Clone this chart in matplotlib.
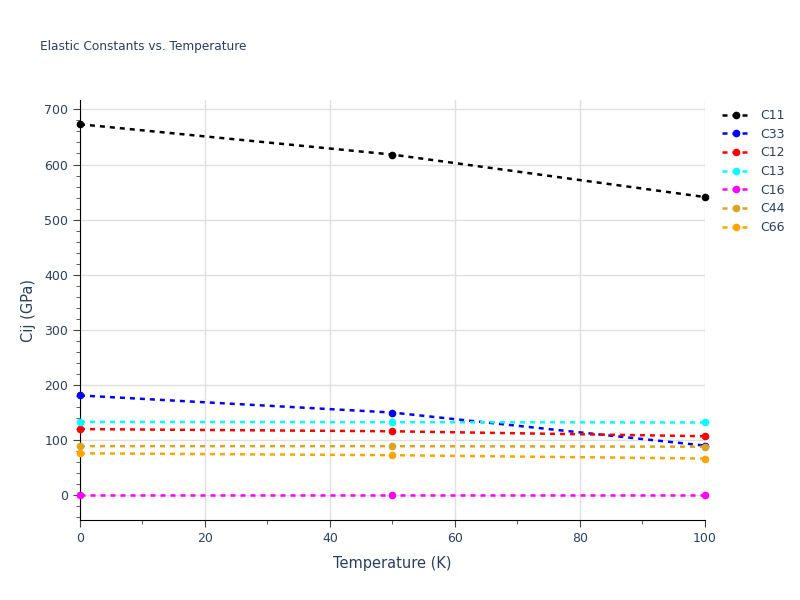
import matplotlib.pyplot as plt
import numpy as np
from matplotlib.ticker import MultipleLocator

temps = [0, 50, 100]
names = ['C11', 'C33', 'C12', 'C13', 'C16', 'C44', 'C66']
c11 = [673, 618, 541]
c33 = [181, 150, 90]
c12 = [120, 116, 107]
c13 = [133, 132.5, 132]
c16 = [0, 0, 0]
c44 = [89, 89, 88]
c66 = [76, 72.6, 66.5]
colors = ['black', 'blue', 'red', 'cyan', 'magenta', 'goldenrod', 'orange']

series = [c11, c33, c12, c13, c16, c44, c66]
txt = '#2a3f5f'

fig = plt.figure(figsize=(8, 6), dpi=100)
ax = fig.add_axes([0.1, 0.1333, 0.781, 0.7])

for name, vals, col in zip(names, series, colors):
    ax.plot(temps, vals, linestyle=(0, (2, 2)), lw=1.8, color=col,
            marker='o', ms=4.5, label=name, clip_on=False, zorder=3)

ax.set_xlim(0, 100)
ax.set_ylim(-45, 717)
ax.xaxis.set_major_locator(MultipleLocator(20))
ax.xaxis.set_minor_locator(MultipleLocator(10))
ax.yaxis.set_major_locator(MultipleLocator(100))
ax.yaxis.set_minor_locator(MultipleLocator(20))
ax.grid(True, which='major', color='#e0e0e0', lw=1)
ax.set_axisbelow(True)
for s in ['top', 'right']:
    ax.spines[s].set_visible(False)
for s in ['left', 'bottom']:
    ax.spines[s].set_color('black')
ax.tick_params(which='both', direction='out', colors='#444444', labelcolor=txt, labelsize=9)
ax.tick_params(which='major', length=5)
ax.tick_params(which='minor', length=3)

ax.set_xlabel('Temperature (K)', color=txt, fontsize=10.5, labelpad=8)
ax.set_ylabel('Cij (GPa)', color=txt, fontsize=10.5, labelpad=6)
fig.text(0.05, 0.923, 'Elastic Constants vs. Temperature', color=txt, fontsize=8.7, va='center')

leg = ax.legend(loc='upper left', bbox_to_anchor=(1.01, 1.005), frameon=False,
                fontsize=9, labelcolor=txt, handlelength=2.2, labelspacing=0.45)

fig.savefig('out.png', dpi=100)
